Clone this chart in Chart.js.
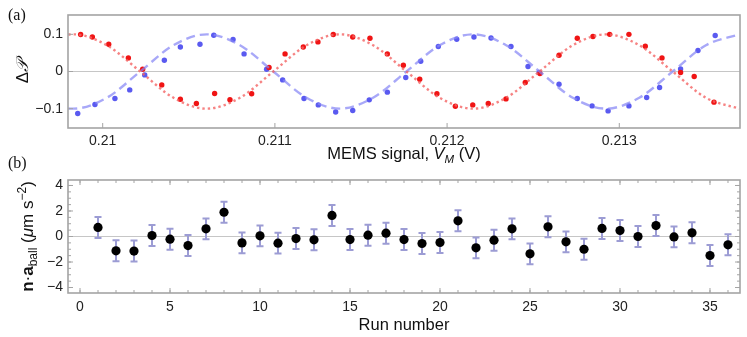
<!DOCTYPE html>
<html>
<head>
<meta charset="utf-8">
<script src="https://cdn.jsdelivr.net/npm/chart.js@4.4.0/dist/chart.umd.min.js"></script>
<style>
  html, body { margin: 0; padding: 0; background: #fff; }
  #wrap { position: relative; width: 747px; height: 337px; }
  canvas { position: absolute; left: 0; }
  #top { top: 0; }
  #bottom { top: 150px; }
</style>
</head>
<body>
<div id="wrap">
  <canvas id="top" width="747" height="168"></canvas>
  <canvas id="bottom" width="747" height="187"></canvas>
</div>
<script>
// ---- panel (a): data ----
const redX = [0.209872, 0.209940, 0.210035, 0.210149, 0.210232, 0.210343, 0.210451, 0.210544, 0.210650, 0.210739,
              0.210865, 0.210966, 0.211059, 0.211165, 0.211250, 0.211339, 0.211452, 0.211552, 0.211653, 0.211746,
              0.211841, 0.211941, 0.212048, 0.212149, 0.212239, 0.212342, 0.212454, 0.212539, 0.212650, 0.212756,
              0.212847, 0.212944, 0.213056, 0.213151, 0.213248, 0.213356, 0.213435, 0.213550];
const redY = [0.0995, 0.093, 0.0734, 0.0366, 0.0062, -0.036, -0.0745, -0.086, -0.059, -0.076,
              -0.060, 0.0108, 0.0473, 0.0661, 0.0796, 0.0995, 0.093, 0.0895, 0.0473, 0.0169,
              -0.0207, -0.060, -0.0933, -0.0898, -0.086, -0.0737, -0.0296, -0.0054, 0.0438, 0.0895,
              0.094, 0.100, 0.100, 0.068, 0.0366, -0.0027, -0.0134, -0.0825];
const blueX = [0.209855, 0.209955, 0.210071, 0.210157, 0.210244, 0.210358, 0.210451, 0.210565, 0.210645, 0.210757,
               0.210821, 0.210952, 0.211045, 0.211169, 0.211252, 0.211353, 0.211452, 0.211548, 0.211653, 0.211760,
               0.211847, 0.211949, 0.212056, 0.212156, 0.212255, 0.212371, 0.212470, 0.212535, 0.212650, 0.212756,
               0.212842, 0.212935, 0.213056, 0.213159, 0.213234, 0.213356, 0.213457, 0.213557];
const blueY = [-0.113, -0.0887, -0.0726, -0.0495, -0.0091, 0.0304, 0.0661, 0.0734, 0.0976, 0.086,
               0.0473, 0.0062, -0.0226, -0.0726, -0.0898, -0.109, -0.105, -0.0763, -0.0556, -0.0161,
               0.0277, 0.0672, 0.0868, 0.093, 0.0903, 0.0672, 0.0134, -0.0027, -0.0341, -0.0726,
               -0.0925, -0.106, -0.0925, -0.070, -0.043, 0.007, 0.0565, 0.0968];
// fitted curves, sampled at peaks, troughs, crossings and between
const fitX = [0.2098, 0.209831, 0.210024, 0.210218, 0.210411, 0.210604, 0.210797, 0.210991, 0.211184, 0.211377,
              0.211570, 0.211764, 0.211957, 0.212150, 0.212343, 0.212537, 0.212730, 0.212923, 0.213116, 0.213310,
              0.213503, 0.213696];
const blueFit = [-0.0996, -0.1, -0.0707, 0, 0.0707, 0.1, 0.0707, 0, -0.0707, -0.1,
                 -0.0707, 0, 0.0707, 0.1, 0.0707, 0, -0.0707, -0.1, -0.0707, 0,
                 0.0707, 0.1];
const redFit = [0.0996, 0.1, 0.0707, 0, -0.0707, -0.1, -0.0707, 0, 0.0707, 0.1,
                0.0707, 0, -0.0707, -0.1, -0.0707, 0, 0.0707, 0.1, 0.0707, 0,
                -0.0707, -0.1];
const xTicksTop = [0.21, 0.211, 0.212, 0.213];
const xLabelsTop = ['0.21', '0.211', '0.212', '0.213'];
const yTicksTop = [-0.1, 0, 0.1];
const yLabelsTop = ['\u22120.1', '0', '0.1'];

// ---- panel (b) ----
const runs = [1, 2, 3, 4, 5, 6, 7, 8, 9, 10, 11, 12, 13, 14, 15, 16, 17, 18,
              19, 20, 21, 22, 23, 24, 25, 26, 27, 28, 29, 30, 31, 32, 33, 34, 35, 36];
const accel = [0.71, -1.12, -1.14, 0.08, -0.21, -0.71, 0.6, 1.9, -0.5, 0.05, -0.52, -0.16, -0.26, 1.65, -0.24, 0.1, 0.26, -0.24,
               -0.55, -0.47, 1.23, -0.89, -0.29, 0.6, -1.36, 0.76, -0.42, -1.0, 0.63, 0.47, 0.0, 0.86, -0.03, 0.29, -1.49, -0.65];
const accelErr = [0.82, 0.82, 0.82, 0.82, 0.82, 0.82, 0.82, 0.82, 0.82, 0.82, 0.82, 0.82, 0.82, 0.82, 0.82, 0.82, 0.82, 0.82,
                  0.82, 0.82, 0.82, 0.82, 0.82, 0.82, 0.82, 0.82, 0.82, 0.82, 0.82, 0.82, 0.82, 0.82, 0.82, 0.82, 0.82, 0.82];
const xTicksBot = [0, 5, 10, 15, 20, 25, 30, 35];
const xLabelsBot = ['0', '5', '10', '15', '20', '25', '30', '35'];
const yTicksBot = [-4, -2, 0, 2, 4];
const yLabelsBot = ['\u22124', '\u22122', '0', '2', '4'];

const SANS = '"Liberation Sans", Arial, Helvetica, sans-serif';
const SERIF = '"Liberation Serif", "Times New Roman", serif';
const pts = (xs, ys) => xs.map((v, i) => ({ x: v, y: ys[i] }));
const range = (a, b, s) => { const r = []; for (let v = a; v <= b + 1e-9; v += s) r.push(+v.toFixed(6)); return r; };

// rich text helper: parts drawn in a row, centred on (cx, cy) baseline
function drawParts(ctx, parts, cx, cy, angle) {
  ctx.save();
  ctx.translate(cx, cy);
  ctx.rotate(angle);
  ctx.textAlign = 'left';
  ctx.textBaseline = 'alphabetic';
  ctx.fillStyle = '#111';
  let total = 0;
  parts.forEach(p => { ctx.font = p.font; p.w = ctx.measureText(p.t).width; total += p.w; });
  let x = -total / 2;
  parts.forEach(p => { ctx.font = p.font; ctx.fillText(p.t, x, p.dy || 0); x += p.w; });
  ctx.restore();
}

// frame with inward tick marks
function framePlugin(o) {
  return {
    id: 'frame',
    afterDatasetsDraw(chart) {
      const { ctx, chartArea: a, scales: { x, y } } = chart;
      ctx.save();
      ctx.strokeStyle = '#a4a4a4';
      ctx.lineWidth = 1;
      ctx.beginPath();
      const xt = (vals, len) => vals.forEach(v => {
        const px = x.getPixelForValue(v);
        ctx.moveTo(px, a.bottom); ctx.lineTo(px, a.bottom - len);
        if (o.all) { ctx.moveTo(px, a.top); ctx.lineTo(px, a.top + len); }
      });
      const yt = (vals, len) => vals.forEach(v => {
        const py = y.getPixelForValue(v);
        ctx.moveTo(a.left, py); ctx.lineTo(a.left + len, py);
        if (o.all) { ctx.moveTo(a.right, py); ctx.lineTo(a.right - len, py); }
      });
      xt(o.xMajor, 5); yt(o.yMajor, 5);
      if (o.xMinor) xt(o.xMinor, 3);
      if (o.yMinor) yt(o.yMinor, 3);
      ctx.stroke();
      ctx.lineWidth = 1.6;
      ctx.strokeRect(a.left, a.top, a.width, a.height);
      ctx.restore();
    }
  };
}

function axisOpts(min, max, ticks, labels, pad, isX, zeroLine) {
  return {
    type: 'linear', min: min, max: max,
    afterBuildTicks: s => { s.ticks = ticks.map(v => ({ value: v })); },
    ticks: { callback: (v, i) => labels[i], font: { family: SANS, size: 14 }, color: '#222',
             padding: pad, autoSkip: false, maxRotation: 0 },
    grid: zeroLine ? { drawTicks: false, lineWidth: 1,
                       color: c => (c.tick && c.tick.value === 0) ? '#c6c6c6' : 'rgba(0,0,0,0)' }
                   : { display: false, drawTicks: false },
    border: { display: false }
  };
}

// ---- top chart ----
const topX = axisOpts(0.2097985, 0.213701, xTicksTop, xLabelsTop, 5, true, false);
topX.afterFit = s => { s.height = 40; };
const topY = axisOpts(-0.152, 0.152, yTicksTop, yLabelsTop, 5, false, true);
topY.afterFit = s => { s.width = 68; };

new Chart(document.getElementById('top'), {
  type: 'scatter',
  data: {
    datasets: [
      { data: pts(fitX, redFit), showLine: true, borderColor: 'rgba(244,100,100,0.8)', borderWidth: 2.4,
        borderDash: [2.4, 3], pointRadius: 0, cubicInterpolationMode: 'monotone' },
      { data: pts(fitX, blueFit), showLine: true, borderColor: 'rgba(135,135,245,0.72)', borderWidth: 2.4,
        borderDash: [9, 5], pointRadius: 0, cubicInterpolationMode: 'monotone' },
      { data: pts(redX, redY), pointRadius: 2.7, backgroundColor: '#f01414', borderWidth: 0 },
      { data: pts(blueX, blueY), pointRadius: 2.7, backgroundColor: '#5a5af0', borderWidth: 0 }
    ]
  },
  options: {
    responsive: false, animation: false,
    layout: { padding: { left: 0, right: 7, top: 15, bottom: 0 } },
    plugins: { legend: { display: false }, tooltip: { enabled: false } },
    scales: { x: topX, y: topY }
  },
  plugins: [
    framePlugin({ xMajor: xTicksTop, yMajor: yTicksTop, all: false }),
    {
      id: 'titlesTop',
      afterDraw(chart) {
        const ctx = chart.ctx, a = chart.chartArea;
        ctx.save();
        ctx.fillStyle = '#111';
        ctx.font = '16px ' + SERIF;
        ctx.fillText('(a)', 8, 20);
        ctx.restore();
        drawParts(ctx, [
          { t: 'MEMS signal, ', font: '16.5px ' + SANS },
          { t: 'V', font: 'italic 16.5px ' + SANS },
          { t: 'M', font: 'italic 11.5px ' + SANS, dy: 4 },
          { t: ' (V)', font: '16.5px ' + SANS }
        ], (a.left + a.right) / 2, 159, 0);
        drawParts(ctx, [
          { t: '\u0394', font: '17px ' + SANS },
          { t: '\uD835\uDCAB', font: 'italic 17px "DejaVu Serif", ' + SERIF }
        ], 28, (a.top + a.bottom) / 2, -Math.PI / 2);
      }
    }
  ]
});

// ---- bottom chart ----
const botX = axisOpts(-0.667, 36.667, xTicksBot, xLabelsBot, 6, true, false);
botX.afterFit = s => { s.height = 44; };
const botY = axisOpts(-4.43, 4.43, yTicksBot, yLabelsBot, 5, false, true);
botY.afterFit = s => { s.width = 68; };

const errorBars = {
  id: 'errorBars',
  beforeDatasetsDraw(chart) {
    const { ctx, scales: { x, y } } = chart;
    ctx.save();
    ctx.strokeStyle = '#9c9cd4';
    ctx.lineWidth = 2;
    ctx.beginPath();
    runs.forEach((r, i) => {
      const px = x.getPixelForValue(r);
      const hi = y.getPixelForValue(accel[i] + accelErr[i]);
      const lo = y.getPixelForValue(accel[i] - accelErr[i]);
      ctx.moveTo(px, hi); ctx.lineTo(px, lo);
      ctx.moveTo(px - 3.5, hi); ctx.lineTo(px + 3.5, hi);
      ctx.moveTo(px - 3.5, lo); ctx.lineTo(px + 3.5, lo);
    });
    ctx.stroke();
    ctx.restore();
  }
};

new Chart(document.getElementById('bottom'), {
  type: 'scatter',
  data: {
    datasets: [
      { data: pts(runs, accel), pointRadius: 4.6, backgroundColor: '#000', borderWidth: 0 }
    ]
  },
  options: {
    responsive: false, animation: false,
    layout: { padding: { left: 0, right: 7, top: 30, bottom: 0 } },
    plugins: { legend: { display: false }, tooltip: { enabled: false } },
    scales: { x: botX, y: botY }
  },
  plugins: [
    errorBars,
    framePlugin({ xMajor: xTicksBot, yMajor: yTicksBot, xMinor: range(0, 36, 1), yMinor: range(-4, 4, 0.5), all: true }),
    {
      id: 'titlesBot',
      afterDraw(chart) {
        const ctx = chart.ctx, a = chart.chartArea;
        ctx.save();
        ctx.fillStyle = '#111';
        ctx.font = '16px ' + SERIF;
        ctx.fillText('(b)', 8, 18);
        ctx.restore();
        drawParts(ctx, [{ t: 'Run number', font: '16.5px ' + SANS }], (a.left + a.right) / 2, 180, 0);
        drawParts(ctx, [
          { t: 'n', font: 'bold 17px ' + SANS },
          { t: '\u00B7', font: '17px ' + SANS },
          { t: 'a', font: 'bold 17px ' + SANS },
          { t: 'ball', font: '12px ' + SANS, dy: 4 },
          { t: ' (', font: '17px ' + SANS },
          { t: '\u03BC', font: 'italic 17px ' + SANS },
          { t: 'm s', font: '17px ' + SANS },
          { t: '\u22122', font: '12px ' + SANS, dy: -7 },
          { t: ')', font: '17px ' + SANS }
        ], 33, (a.top + a.bottom) / 2, -Math.PI / 2);
      }
    }
  ]
});
</script>
</body>
</html>
